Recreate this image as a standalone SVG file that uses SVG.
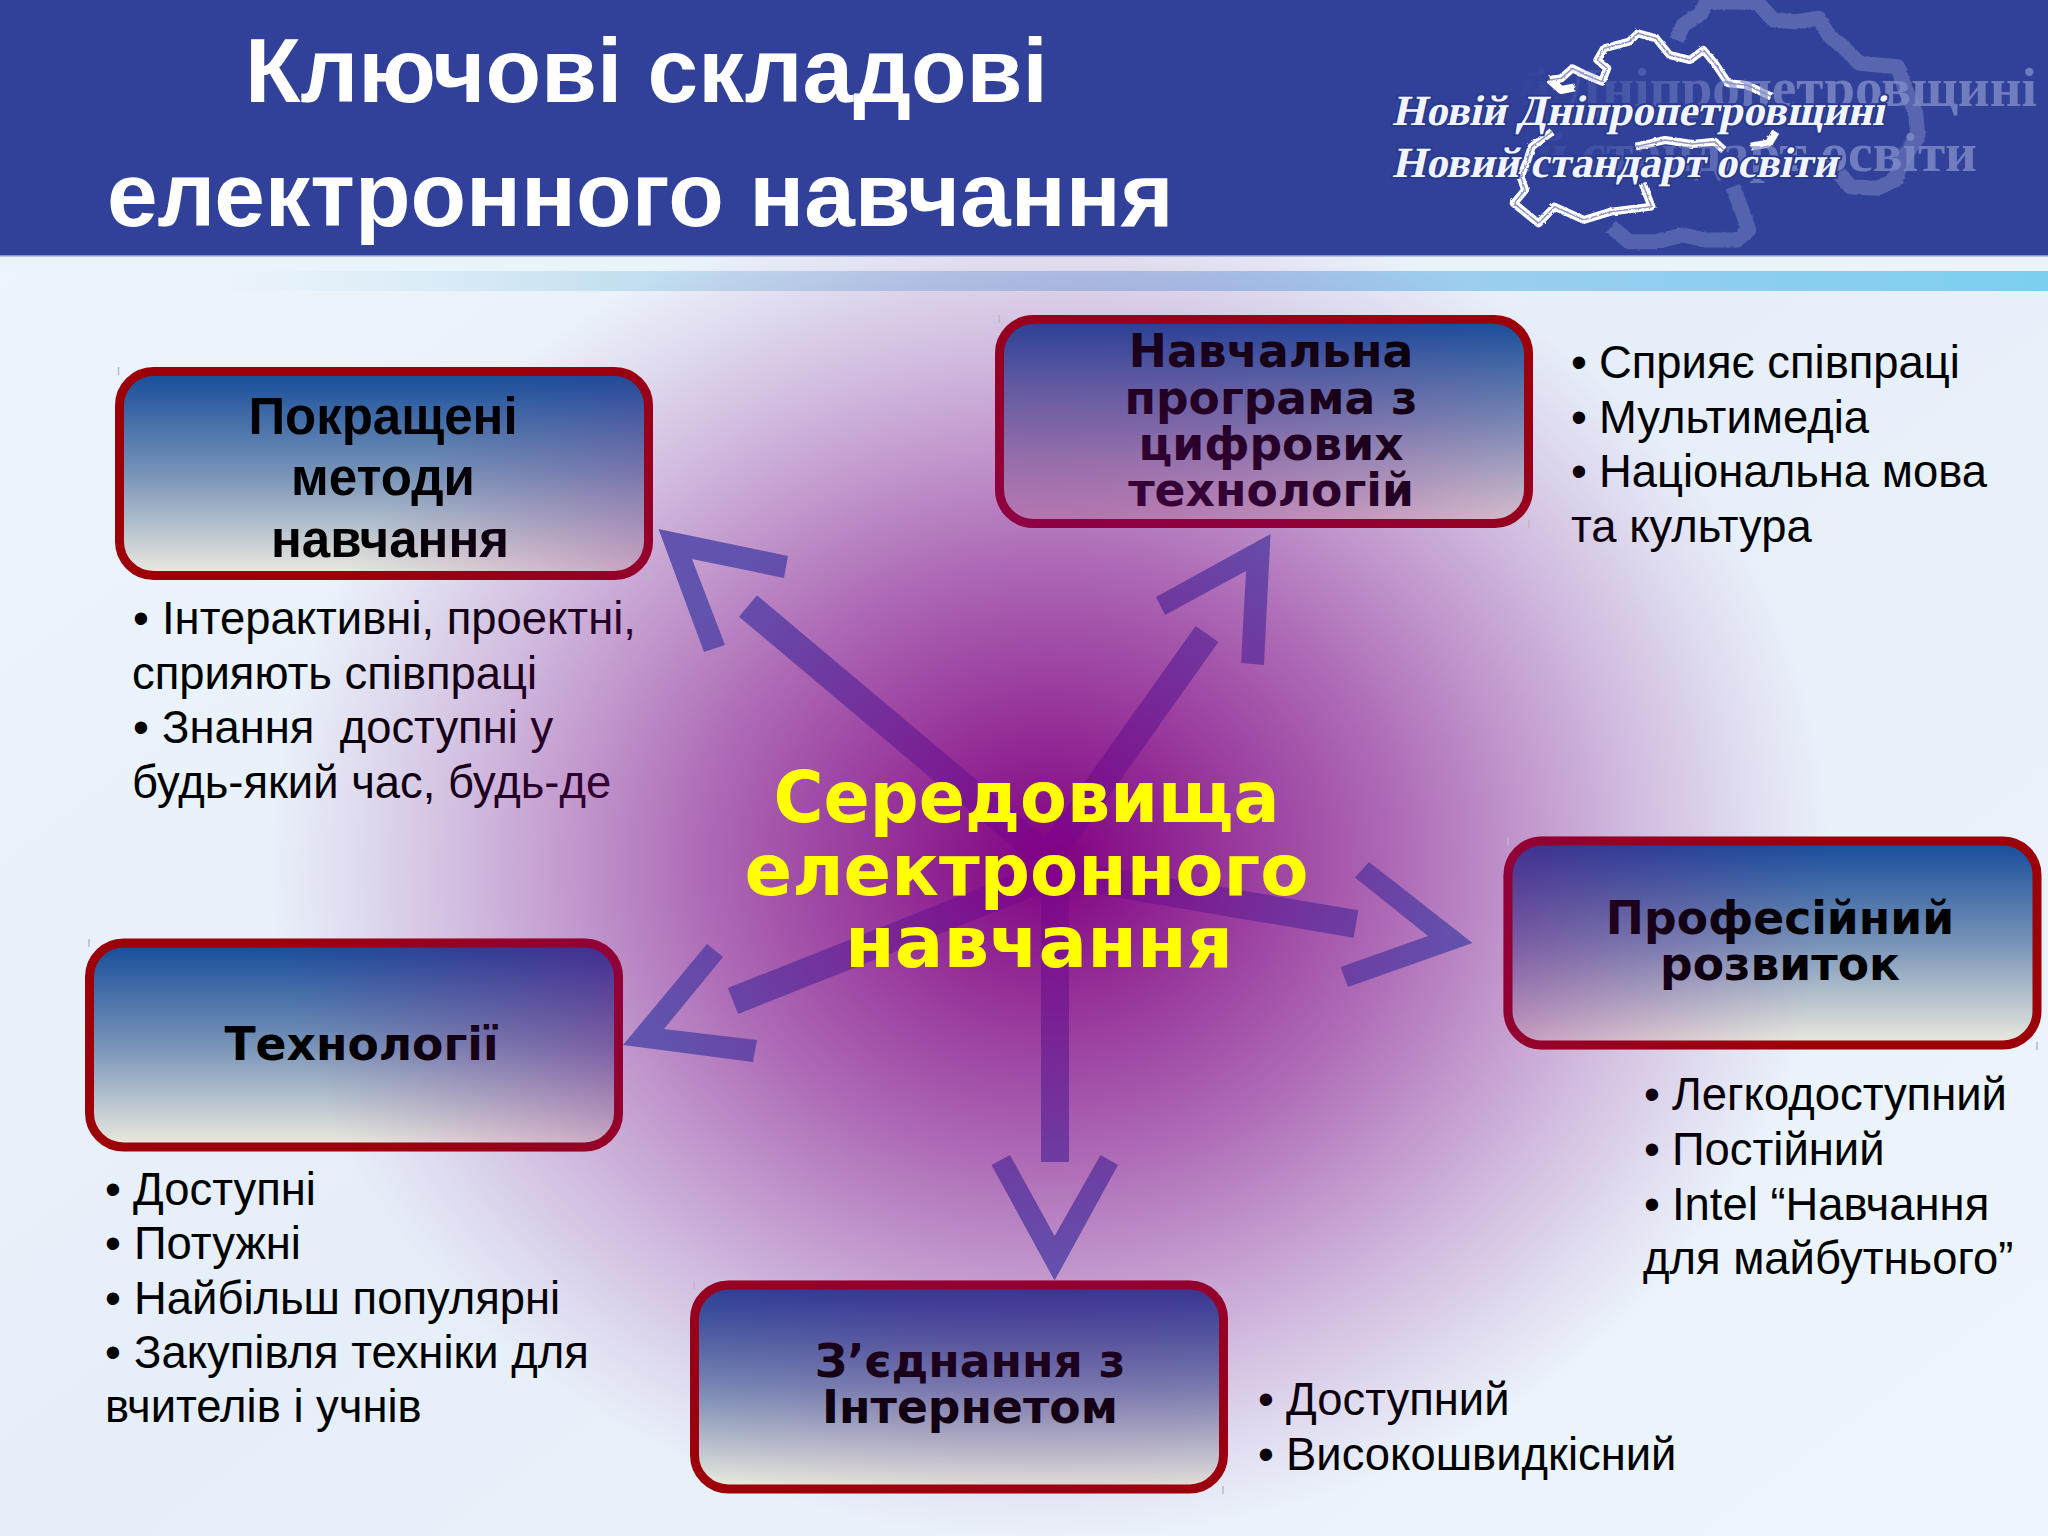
<svg xmlns="http://www.w3.org/2000/svg" width="2048" height="1536" viewBox="0 0 2048 1536">
<style>
.h{font-family:"Liberation Sans",Arial,sans-serif;font-weight:700;font-size:91px;fill:#fff}
.c{font-family:"DejaVu Sans",Verdana,sans-serif;font-weight:700;font-size:71px;fill:#ff0;text-anchor:middle}
.t{font-family:"DejaVu Sans",Verdana,sans-serif;font-weight:700;font-size:45.6px;fill:url(#ink);text-anchor:middle}
.a{font-family:"Liberation Sans",Arial,sans-serif;font-weight:700;font-size:51px;fill:url(#ink);text-anchor:middle}
.b{font-family:"Liberation Sans",Arial,sans-serif;font-size:45.4px;fill:url(#ink)}
.l{font-family:"Liberation Serif","Times New Roman",serif;font-weight:700;font-size:43px;fill:#f2f5ff;stroke:#2a3a8c;stroke-width:4;paint-order:stroke}
.g{font-family:"Liberation Serif","Times New Roman",serif;font-weight:700;font-size:55px;fill:url(#ghost)}
.box{fill:url(#boxfill);stroke:#9c0008;stroke-width:9}
.over{fill:url(#glow);stroke:none}
.tick{stroke:#b8b8c0;stroke-width:1.5}
.shaft{stroke:url(#arrow);stroke-width:28;fill:none}
.head{fill:url(#arrow)}
.map{fill:none;vector-effect:non-scaling-stroke;stroke-linejoin:round}
</style>
<defs>
<linearGradient id="bg" x1="0" y1="0" x2="1" y2="1">
<stop offset="0" stop-color="#eef6fc"/><stop offset=".5" stop-color="#e6eef9"/><stop offset="1" stop-color="#edf5fc"/>
</linearGradient>
<linearGradient id="band" x1="0" x2="1" y1="0" y2="0">
<stop offset=".1" stop-color="#d8ecf8" stop-opacity="0"/><stop offset=".3" stop-color="#c4e0f0"/><stop offset=".6" stop-color="#a8cdee"/><stop offset="1" stop-color="#7ccff0"/>
</linearGradient>
<radialGradient id="glow" gradientUnits="userSpaceOnUse" cx="0" cy="0" r="1" gradientTransform="translate(1050 860) scale(780 680)">
<stop offset="0" stop-color="#800080"/>
<stop offset=".15" stop-color="#800080" stop-opacity=".85"/>
<stop offset=".3" stop-color="#800080" stop-opacity=".7"/>
<stop offset=".45" stop-color="#800080" stop-opacity=".55"/>
<stop offset=".6" stop-color="#800080" stop-opacity=".38"/>
<stop offset=".75" stop-color="#800080" stop-opacity=".22"/>
<stop offset=".9" stop-color="#800080" stop-opacity=".08"/>
<stop offset="1" stop-color="#800080" stop-opacity="0"/>
</radialGradient>
<radialGradient id="ink" gradientUnits="userSpaceOnUse" cx="0" cy="0" r="1" gradientTransform="translate(1050 860) scale(780 680)">
<stop offset="0" stop-color="#800080"/>
<stop offset=".45" stop-color="#460046"/>
<stop offset=".6" stop-color="#310031"/>
<stop offset=".75" stop-color="#1c001c"/>
<stop offset=".9" stop-color="#0a000a"/>
<stop offset="1" stop-color="#000"/>
</radialGradient>
<radialGradient id="arrow" gradientUnits="userSpaceOnUse" cx="1050" cy="860" r="430">
<stop offset="0" stop-color="#800088"/><stop offset=".45" stop-color="#772896"/><stop offset="1" stop-color="#6254ae"/>
</radialGradient>
<linearGradient id="boxfill" x1="0" x2="0" y1="0" y2="1">
<stop offset="0" stop-color="#154c9a"/><stop offset=".5" stop-color="#7793b8"/><stop offset="1" stop-color="#ecebdf"/>
</linearGradient>
<linearGradient id="ghost" gradientUnits="userSpaceOnUse" x1="1520" x2="1800" y1="0" y2="0">
<stop offset="0" stop-color="#7f8cc8" stop-opacity="0"/><stop offset="1" stop-color="#7f8cc8" stop-opacity=".8"/>
</linearGradient>
<filter id="soft" x="-5%" y="-5%" width="110%" height="110%">
<feTurbulence type="fractalNoise" baseFrequency=".12" numOctaves="2" seed="4" result="n"/>
<feDisplacementMap in="SourceGraphic" in2="n" scale="7"/>
<feGaussianBlur stdDeviation=".9"/>
</filter>
<filter id="rough" x="-5%" y="-5%" width="110%" height="110%">
<feTurbulence type="fractalNoise" baseFrequency=".09" numOctaves="2" seed="9" result="n"/>
<feDisplacementMap in="SourceGraphic" in2="n" scale="7"/>
</filter>
</defs>

<g id="background">
<rect width="2048" height="1536" fill="url(#bg)"/>
<rect y="256" width="2048" height="15" fill="#eaf4fb"/>
<rect y="271" width="2048" height="20" fill="url(#band)"/>
<rect class="over" y="256" width="2048" height="1280"/>
<rect y="0" width="2048" height="255" fill="#31419a"/>
<rect y="255" width="2048" height="1.5" fill="#8a93b8"/>
</g>

<g id="title">
<text class="h" x="245" y="102">Ключові складові</text>
<text class="h" x="107" y="226">електронного навчання</text>
</g>

<g id="logo">
<g transform="translate(1340 0) scale(.4515 .3333)">
<g filter="url(#rough)">
<path class="map" stroke="#7f8bc6" stroke-opacity=".5" stroke-width="15" d="M745 120L760 75L800 40L810 8L860 5L925 8L960 60L1010 65L1060 55L1085 110L1110 135L1150 190L1190 195L1235 200L1250 260L1275 340L1280 410L1245 480L1230 540L1190 565L1130 560L1105 520"/>
<path class="map" stroke="#7f8bc6" stroke-opacity=".45" stroke-width="15" d="M600 680L640 725L700 725L760 705L810 720L880 720L905 690L890 630L870 560"/>
</g>
<g filter="url(#soft)">
<path class="map" stroke="#fff" stroke-width="8" d="M465 240L490 235L515 205L545 225L580 245L592 205L570 180L585 145L640 125L660 100L700 115L730 165L775 180L805 150L830 190L860 250L900 255L925 270L955 290M465 240L490 270L520 262M470 395L425 440L415 480L400 530L410 570L385 610L440 670L475 620L540 660L600 635L690 620L670 550M655 440L720 420L780 432L830 425L850 450M965 395L950 430L910 440"/>
<path class="map" stroke="#8f96bd" stroke-width="1.5" d="M465 240L490 235L515 205L545 225L580 245L592 205L570 180L585 145L640 125L660 100L700 115L730 165L775 180L805 150L830 190L860 250L900 255L925 270L955 290M470 395L425 440L415 480L400 530L410 570L385 610L440 670L475 620L540 660L600 635L690 620L670 550M655 440L720 420L780 432L830 425L850 450"/>
</g>
</g>
<text class="g" x="1404" y="106" textLength="633" lengthAdjust="spacingAndGlyphs">Новій Дніпропетровщині</text>
<text class="g" x="1405" y="171" textLength="572" lengthAdjust="spacingAndGlyphs">Новий стандарт освіти</text>
<text class="l" transform="translate(1392 125) skewX(-12)" textLength="492" lengthAdjust="spacingAndGlyphs">Новій Дніпропетровщині</text>
<text class="l" transform="translate(1392 177) skewX(-12)" textLength="445" lengthAdjust="spacingAndGlyphs">Новий стандарт освіти</text>
</g>

<g id="connectors">
<line class="shaft" x1="1050" y1="860" x2="748" y2="606"/>
<polygon class="head" points="658.5,529 788,556 784,578 692,559 725,645 704,652"/>
<line class="shaft" x1="1050" y1="855" x2="1207" y2="634"/>
<polygon class="head" points="1270.5,534 1264,665 1241,663 1246,571 1165,615 1156,597"/>
<line class="shaft" x1="1050" y1="872" x2="1356" y2="924"/>
<polygon class="head" points="1472.5,943 1348,987 1340.5,967 1428,936 1355,877.5 1369,862"/>
<line class="shaft" x1="1055" y1="860" x2="1055" y2="1162"/>
<polygon class="head" points="1054.6,1280.6 991.5,1165 1010,1155 1054.6,1236 1100.6,1155 1118,1165"/>
<line class="shaft" x1="1050" y1="875" x2="733" y2="1001"/>
<polygon class="head" points="623,1045 707,944 723,957 664,1029 757,1040 753,1062"/>
</g>

<g id="node-center">
<text class="c" x="1026.5" y="822" textLength="506" lengthAdjust="spacingAndGlyphs">Середовища</text>
<text class="c" x="1026.5" y="895" textLength="564" lengthAdjust="spacingAndGlyphs">електронного</text>
<text class="c" x="1039" y="967" textLength="388" lengthAdjust="spacingAndGlyphs">навчання</text>
</g>

<g id="node-methods">
<rect class="box" x="119.5" y="371.5" width="529" height="204" rx="34"/>
<rect class="over" x="115" y="367" width="538" height="213" rx="38"/>
<line class="tick" x1="118.5" y1="367" x2="118.5" y2="375"/><line class="tick" x1="648" y1="572" x2="648" y2="580"/>
<text class="a" x="383" y="434">Покращені</text>
<text class="a" x="383" y="495">методи</text>
<text class="a" x="390" y="557">навчання</text>
<text class="b" y="634"><tspan x="133">•</tspan><tspan x="162">Інтерактивні, проектні,</tspan></text>
<text class="b" x="132" y="689">сприяють співпраці</text>
<text class="b" y="743"><tspan x="133">•</tspan><tspan x="162" xml:space="preserve">Знання  доступні у</tspan></text>
<text class="b" x="132" y="798">будь-який час, будь-де</text>
</g>

<g id="node-curriculum">
<rect class="box" x="999.5" y="319.5" width="529" height="204" rx="34"/>
<rect class="over" x="995" y="315" width="538" height="213" rx="38"/>
<line class="tick" x1="999" y1="315" x2="999" y2="323"/><line class="tick" x1="1529" y1="520" x2="1529" y2="528"/>
<text class="t" x="1271" y="367">Навчальна</text>
<text class="t" x="1271" y="414">програма з</text>
<text class="t" x="1271" y="460">цифрових</text>
<text class="t" x="1271" y="506">технологій</text>
<text class="b" y="378"><tspan x="1571">•</tspan><tspan x="1599">Сприяє співпраці</tspan></text>
<text class="b" y="433"><tspan x="1571">•</tspan><tspan x="1599">Мультимедіа</tspan></text>
<text class="b" y="487"><tspan x="1571">•</tspan><tspan x="1599">Національна мова</tspan></text>
<text class="b" x="1571" y="542">та культура</text>
</g>

<g id="node-development">
<rect class="box" x="1508" y="841" width="529" height="204" rx="34"/>
<rect class="over" x="1503.5" y="836.5" width="538" height="213" rx="38"/>
<line class="tick" x1="1508" y1="837" x2="1508" y2="845"/><line class="tick" x1="2037" y1="1042" x2="2037" y2="1050"/>
<text class="t" x="1780" y="934">Професійний</text>
<text class="t" x="1780" y="980">розвиток</text>
<text class="b" y="1110"><tspan x="1644">•</tspan><tspan x="1672">Легкодоступний</tspan></text>
<text class="b" y="1165"><tspan x="1644">•</tspan><tspan x="1672">Постійний</tspan></text>
<text class="b" y="1220"><tspan x="1644">•</tspan><tspan x="1672">Intel “Навчання</tspan></text>
<text class="b" x="1643" y="1274">для майбутнього”</text>
</g>

<g id="node-internet">
<rect class="box" x="694.5" y="1285" width="529" height="204" rx="34"/>
<rect class="over" x="690" y="1280.5" width="538" height="213" rx="38"/>
<line class="tick" x1="694" y1="1281" x2="694" y2="1289"/><line class="tick" x1="1223" y1="1486" x2="1223" y2="1494"/>
<text class="t" x="970" y="1377">З’єднання з</text>
<text class="t" x="970" y="1423">Інтернетом</text>
<text class="b" y="1415"><tspan x="1258">•</tspan><tspan x="1286">Доступний</tspan></text>
<text class="b" y="1470"><tspan x="1258">•</tspan><tspan x="1286">Високошвидкісний</tspan></text>
</g>

<g id="node-technology">
<rect class="box" x="89.5" y="943" width="529" height="204" rx="34"/>
<rect class="over" x="85" y="938.5" width="538" height="213" rx="38"/>
<line class="tick" x1="89" y1="939" x2="89" y2="947"/><line class="tick" x1="619" y1="1144" x2="619" y2="1152"/>
<text class="t" x="361.5" y="1060">Технології</text>
<text class="b" y="1205"><tspan x="105">•</tspan><tspan x="133">Доступні</tspan></text>
<text class="b" y="1259"><tspan x="105">•</tspan><tspan x="134">Потужні</tspan></text>
<text class="b" y="1314"><tspan x="105">•</tspan><tspan x="134">Найбільш популярні</tspan></text>
<text class="b" y="1368"><tspan x="105">•</tspan><tspan x="134">Закупівля техніки для</tspan></text>
<text class="b" x="105" y="1422">вчителів і учнів</text>
</g>
</svg>
